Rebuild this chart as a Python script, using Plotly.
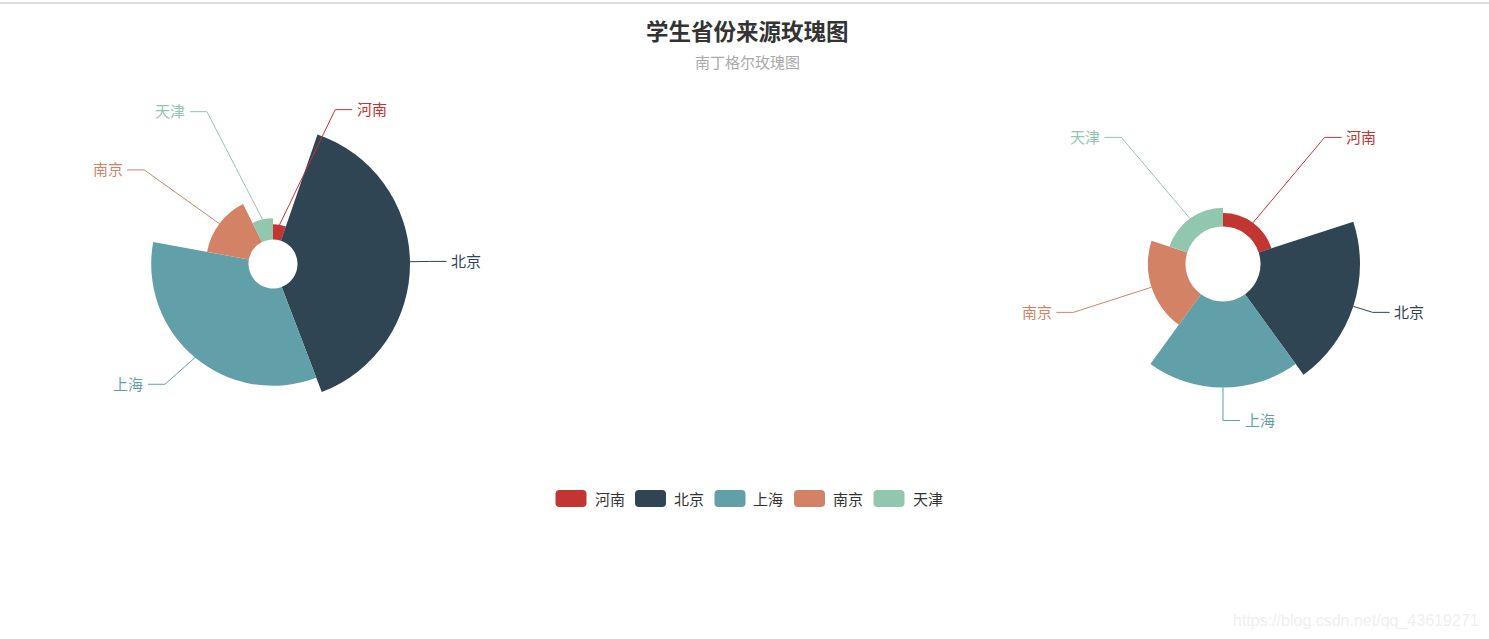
import numpy as np
import plotly.graph_objects as go

W, H = 1489, 639

# ---------------- data ----------------
categories = ['河南', '北京', '上海', '南京', '天津']
values = [5, 37, 32, 14, 7]
colors = ['#c23531', '#2f4554', '#61a0a8', '#d48265', '#91c7ae']
title_text = '学生省份来源玫瑰图'
subtitle_text = '南丁格尔玫瑰图'
watermark_text = 'https://blog.csdn.net/qq_43619271'

# ---------------- geometry (pixels) ----------------
charts = [
    dict(cx=273.0, cy=264.0, r0=24.5, R=137.0, rose='radius', sub='polar'),
    dict(cx=1223.0, cy=264.0, r0=37.5, R=137.0, rose='area', sub='polar2'),
]
RD = 230.0          # pixel radius of each polar domain (= radial range max)
L1, L2, GAP = 19.5, 17.0, 2.5
FONT = 'Noto Sans CJK SC'


def px2paper(x, y):
    return x / W, 1 - y / H


v = np.array(values, dtype=float)
n = len(v)
fig = go.Figure()
annotations = []
shapes = []

for ch in charts:
    cx, cy, r0, R = ch['cx'], ch['cy'], ch['r0'], ch['R']
    if ch['rose'] == 'radius':
        spans = v / v.sum() * 360.0
    else:
        spans = np.full(n, 360.0 / n)
    starts = np.concatenate([[0.0], np.cumsum(spans)[:-1]])
    mids = starts + spans / 2
    thick = (R - r0) * v / v.max()

    for i in range(n):
        fig.add_trace(go.Barpolar(
            r=[thick[i]], theta=[mids[i]], width=[spans[i]], base=[r0],
            marker=dict(color=colors[i], line=dict(width=0)),
            subplot=ch['sub'], name=categories[i], showlegend=False,
            hovertemplate=categories[i] + ': ' + str(values[i]) + '<extra></extra>'))

    for i in range(n):
        a = np.radians(mids[i])
        sx, sy = np.sin(a), -np.cos(a)
        rit = r0 + thick[i]
        x1, y1 = cx + rit * sx, cy + rit * sy
        Y = cy + (R + L1) * sy
        dy = abs(Y - cy)
        d = 1 if sx >= 0 else -1
        if dy < R + L1 - 1e-6:
            X = cx + d * np.sqrt((R + L1 + L2) ** 2 - dy ** 2)
        else:
            X = cx + (R + L1) * sx + d * L2
        pts = [(x1, y1), (X - d * L2, Y), (X, Y)]
        rr = [np.hypot(px - cx, py - cy) for px, py in pts]
        tt = [np.degrees(np.arctan2(px - cx, -(py - cy))) for px, py in pts]
        fig.add_trace(go.Scatterpolar(
            r=rr, theta=tt, mode='lines', line=dict(color=colors[i], width=1),
            subplot=ch['sub'], showlegend=False, hoverinfo='skip'))
        ax, ay = px2paper(X + d * GAP, Y - 1)
        annotations.append(dict(
            x=ax, y=ay, xref='paper', yref='paper', text=categories[i],
            showarrow=False, xanchor='left' if d > 0 else 'right', yanchor='middle',
            font=dict(family=FONT, size=15, color=colors[i])))

polar_common = dict(
    bgcolor='rgba(0,0,0,0)',
    radialaxis=dict(visible=False, range=[0, RD]),
    angularaxis=dict(visible=False, rotation=90, direction='clockwise'),
)


def domain(cx, cy):
    x0, y1 = px2paper(cx - RD, cy - RD)
    x1, y0 = px2paper(cx + RD, cy + RD)
    return dict(x=[x0, x1], y=[y0, y1])


# ---------------- legend (manual, rounded icons) ----------------
icon_w, icon_h, icon_r, icon_gap, item_gap, leg_fs = 31.0, 17.0, 4.0, 6.0, 12.5, 15
leg_cx, leg_cy = 748.0, 498.5
text_w = [len(c) * leg_fs for c in categories]
total = sum(icon_w + icon_gap + tw for tw in text_w) + item_gap * (n - 1)
xcur = leg_cx - total / 2


def rrect(x0, y0, x1, y1, r):
    p = [
        (x0 + r, y0), (x1 - r, y0), ('Q', x1, y0, x1, y0 + r), (x1, y1 - r),
        ('Q', x1, y1, x1 - r, y1), (x0 + r, y1), ('Q', x0, y1, x0, y1 - r),
        (x0, y0 + r), ('Q', x0, y0, x0 + r, y0)]
    s = ''
    for k, e in enumerate(p):
        if e[0] == 'Q':
            ax_, ay_ = px2paper(e[1], e[2])
            bx_, by_ = px2paper(e[3], e[4])
            s += f' Q {ax_:.6f},{ay_:.6f} {bx_:.6f},{by_:.6f}'
        else:
            ex, ey = px2paper(*e)
            s += (' M ' if k == 0 else ' L ') + f'{ex:.6f},{ey:.6f}'
    return s + ' Z'


for i in range(n):
    shapes.append(dict(type='path', xref='paper', yref='paper',
                       path=rrect(xcur, leg_cy - icon_h / 2, xcur + icon_w, leg_cy + icon_h / 2, icon_r),
                       fillcolor=colors[i], line=dict(width=0)))
    tx, ty = px2paper(xcur + icon_w + icon_gap, leg_cy)
    annotations.append(dict(x=tx, y=ty, xref='paper', yref='paper', text=categories[i],
                            showarrow=False, xanchor='left', yanchor='middle',
                            font=dict(family=FONT, size=leg_fs, color='#333333')))
    xcur += icon_w + icon_gap + text_w[i] + item_gap

# ---------------- titles & misc ----------------
tx, ty = px2paper(747.5, 29.5)
annotations.append(dict(x=tx, y=ty, xref='paper', yref='paper', text='<b>' + title_text + '</b>',
                        showarrow=False, xanchor='center', yanchor='middle',
                        font=dict(family=FONT, size=22.5, color='#333333')))
tx, ty = px2paper(747.5, 61.0)
annotations.append(dict(x=tx, y=ty, xref='paper', yref='paper', text=subtitle_text,
                        showarrow=False, xanchor='center', yanchor='middle',
                        font=dict(family=FONT, size=15, color='#aaaaaa')))
tx, ty = px2paper(1481.0, 621.0)
annotations.append(dict(x=tx, y=ty, xref='paper', yref='paper', text=watermark_text,
                        showarrow=False, xanchor='right', yanchor='middle',
                        font=dict(family='Liberation Sans', size=16, color='#efefef')))
lx0, ly = px2paper(0, 3)
shapes.append(dict(type='line', xref='paper', yref='paper', x0=0, x1=1, y0=ly, y1=ly,
                   line=dict(color='#dcdce0', width=2)))

fig.update_layout(
    width=W, height=H, margin=dict(l=0, r=0, t=0, b=0),
    paper_bgcolor='white', plot_bgcolor='white', showlegend=False,
    polar=dict(domain=domain(charts[0]['cx'], charts[0]['cy']), **polar_common),
    polar2=dict(domain=domain(charts[1]['cx'], charts[1]['cy']), **polar_common),
    annotations=annotations, shapes=shapes,
    font=dict(family=FONT),
)

fig.write_html('out.html', config={'displayModeBar': False},
               post_script="document.body.style.margin='0px';document.body.style.overflow='hidden';")
